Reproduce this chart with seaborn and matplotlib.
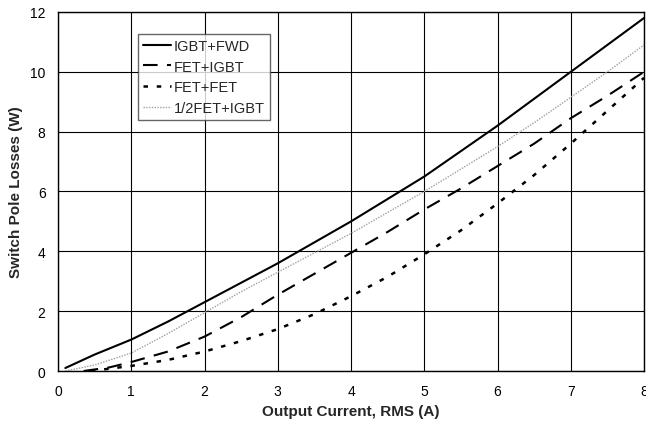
import matplotlib
matplotlib.use("Agg")
import matplotlib.pyplot as plt
import seaborn as sns
import pandas as pd

# Data
x_igbt_fwd = [0.1, 0.5, 1, 1.5, 2, 2.5, 3, 3.5, 4, 4.5, 5, 5.5, 6, 6.5, 7, 7.5, 8]
y_igbt_fwd = [0.1, 0.55, 1.05, 1.65, 2.3, 2.95, 3.6, 4.3, 5.0, 5.75, 6.5, 7.35, 8.2, 9.1, 10.0, 10.9, 11.8]

x_fet_igbt = [0.35, 0.7, 1, 1.5, 2, 2.5, 3, 3.5, 4, 4.5, 5, 5.5, 6, 6.5, 7, 7.5, 8]
y_fet_igbt = [0.0, 0.12, 0.3, 0.65, 1.15, 1.8, 2.55, 3.25, 3.95, 4.65, 5.4, 6.1, 6.85, 7.6, 8.45, 9.2, 10.0]

x_fet_fet = [0.45, 1, 1.5, 2, 2.5, 3, 3.5, 4, 4.5, 5, 5.5, 6, 6.5, 7, 7.5, 8]
y_fet_fet = [0.0, 0.17, 0.37, 0.65, 1.0, 1.4, 1.9, 2.5, 3.15, 3.9, 4.7, 5.6, 6.55, 7.6, 8.7, 9.8]

x_half_fet_igbt = [0.1, 0.5, 1, 1.5, 2, 2.5, 3, 3.5, 4, 4.5, 5, 5.5, 6, 6.5, 7, 7.5, 8]
y_half_fet_igbt = [0.0, 0.2, 0.6, 1.25, 1.95, 2.65, 3.3, 3.95, 4.6, 5.3, 6.0, 6.75, 7.5, 8.3, 9.15, 10.0, 10.9]

series_names = ["IGBT+FWD", "FET+IGBT", "FET+FET", "1/2FET+IGBT"]
x_ticks = [0, 1, 2, 3, 4, 5, 6, 7, 8]
y_ticks = [0, 2, 4, 6, 8, 10, 12]

frames = []
for name, xs, ys in zip(series_names,
                        [x_igbt_fwd, x_fet_igbt, x_fet_fet, x_half_fet_igbt],
                        [y_igbt_fwd, y_fet_igbt, y_fet_fet, y_half_fet_igbt]):
    frames.append(pd.DataFrame({"x": xs, "y": ys, "series": name}))
df = pd.concat(frames, ignore_index=True)

sns.set_style("white")
plt.rcParams["font.family"] = ["Liberation Sans", "DejaVu Sans"]

fig = plt.figure(figsize=(6.46, 4.27), dpi=100)
ax = fig.add_axes([0.0898, 0.1288, 0.9072, 0.8408])

styles = {
    "IGBT+FWD": dict(color="black", linestyle="-", linewidth=1.5),
    "FET+IGBT": dict(color="black", linestyle=(0, (7, 4.5)), linewidth=1.5),
    "FET+FET": dict(color="black", linestyle=(0, (1.8, 3.5)), linewidth=1.8),
    "1/2FET+IGBT": dict(color="#a0a0a0", linestyle=(0, (1, 1)), linewidth=1.0),
}
for name in series_names:
    sub = df[df["series"] == name]
    sns.lineplot(data=sub, x="x", y="y", ax=ax, label=name, **styles[name])

ax.set_xlim(0, 8)
ax.set_ylim(0, 12)
ax.set_xticks(x_ticks)
ax.set_yticks(y_ticks)
ax.set_xticklabels([str(t) for t in x_ticks])
ax.set_yticklabels([str(t) for t in y_ticks])
ax.grid(True, color="black", linewidth=0.8)
ax.set_axisbelow(True)
for sp in ax.spines.values():
    sp.set_color("black")
    sp.set_linewidth(1.0)
ax.tick_params(axis="both", direction="out", length=5, width=1, colors="black", labelsize=10, pad=4)
ax.set_xlabel("Output Current, RMS (A)", fontsize=11, fontweight="bold", labelpad=5)
ax.set_ylabel("Switch Pole Losses (W)", fontsize=11, fontweight="bold", labelpad=5)

leg = ax.legend(loc="upper left", bbox_to_anchor=(0.1365, 0.939), frameon=True, fancybox=False,
                edgecolor="#404040", fontsize=10.5, handlelength=1.9, handletextpad=0.2,
                labelspacing=0.45, borderpad=0.35, borderaxespad=0)
leg.get_frame().set_linewidth(1.0)

fig.savefig("out.png", dpi=100)
